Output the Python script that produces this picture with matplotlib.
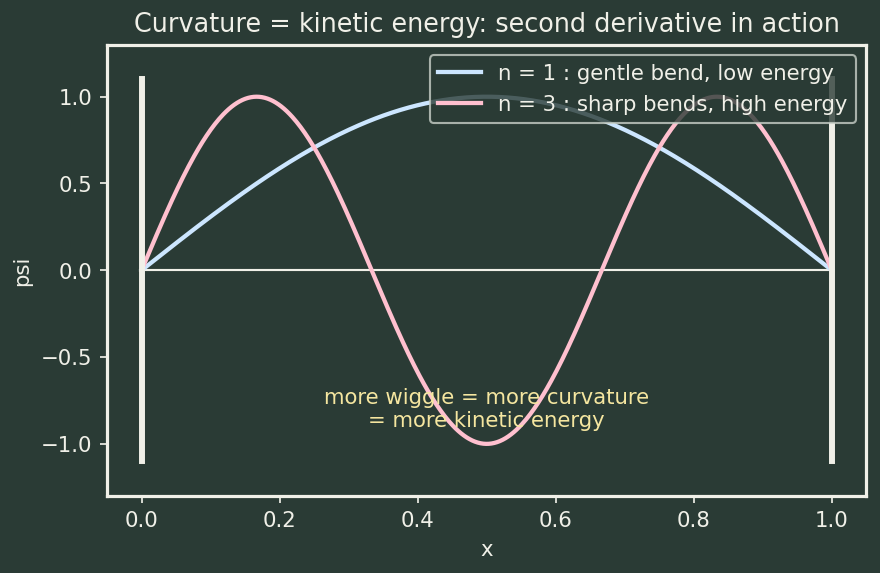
import numpy as np
import matplotlib
matplotlib.use("Agg")
import matplotlib.pyplot as plt

# data
modes = [1, 3]
mode_labels = ["n = 1 : gentle bend, low energy", "n = 3 : sharp bends, high energy"]
mode_colors = ["#cce6ff", "#ffc0cf"]
wall_positions = [0.0, 1.0]
wall_height = 1.1
title = "Curvature = kinetic energy: second derivative in action"
note = "more wiggle = more curvature\n= more kinetic energy"

bg = "#2a3b35"
fg = "#f0f0e8"

DPI = 153
fig = plt.figure(figsize=(880.4/DPI, 573.4/DPI), dpi=DPI, facecolor=bg)
ax = fig.add_axes([107/880, 1-496/573, (866-107)/880, (496-45)/573])
ax.set_facecolor(bg)

x = np.linspace(0, 1, 500)
for n, lab, c in zip(modes, mode_labels, mode_colors):
    ax.plot(x, np.sin(n * np.pi * x), color=c, lw=2.0, label=lab, zorder=3)

ax.plot([0, 1], [0, 0], color=fg, lw=1.0, zorder=2)
for wx in wall_positions:
    ax.plot([wx, wx], [-wall_height, wall_height], color=fg, lw=2.8, zorder=4)

ax.text(0.5, -0.8, note, color="#f5e6a0", ha="center", va="center", fontsize=10, zorder=4)

ax.set_xlim(-0.05, 1.05)
ax.set_ylim(-1.3, 1.3)
ax.set_xticks([0, 0.2, 0.4, 0.6, 0.8, 1.0])
ax.set_yticks([-1.0, -0.5, 0.0, 0.5, 1.0])
ax.set_xlabel("x", color=fg, fontsize=10)
ax.set_ylabel("psi", color=fg, fontsize=10)
ax.set_title(title, color=fg, fontsize=12)
ax.tick_params(colors=fg, labelsize=10)
for s in ax.spines.values():
    s.set_color(fg)
    s.set_linewidth(1.5)

leg = ax.legend(loc="upper right", facecolor=bg, edgecolor="#c8d0c8", fontsize=10,
                framealpha=0.8, labelcolor=fg)
leg.set_zorder(5)

fig.savefig("out.png", dpi=DPI, facecolor=bg)
